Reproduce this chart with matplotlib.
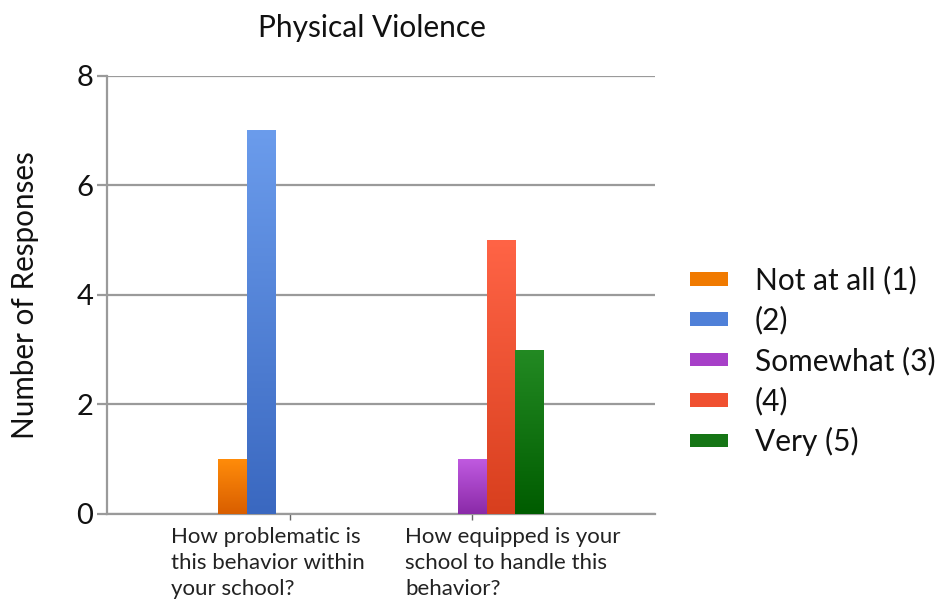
import numpy as np
import matplotlib
matplotlib.use("Agg")
import matplotlib.pyplot as plt
from matplotlib.patches import Patch
from matplotlib.colors import LinearSegmentedColormap
from matplotlib.transforms import blended_transform_factory

plt.rcParams['font.family'] = ['Lato', 'DejaVu Sans']

categories = ["How problematic is\nthis behavior within\nyour school?",
              "How equipped is your\nschool to handle this\nbehavior?"]
series = ["Not at all (1)", "(2)", "Somewhat (3)", "(4)", "Very (5)"]
values = {
    "Not at all (1)": [1, 0],
    "(2)": [7, 0],
    "Somewhat (3)": [0, 1],
    "(4)": [0, 5],
    "Very (5)": [0, 3],
}
yticks = [0, 2, 4, 6, 8]

colors_top = ["#ff8c0a", "#6b9cec", "#c05ae0", "#ff6446", "#238a23"]
colors_bot = ["#d95e00", "#3a68c0", "#8a2aa8", "#d83f1e", "#005c00"]
colors_mid = ["#f07a00", "#4f80d8", "#a740c8", "#f05030", "#157515"]

fig = plt.figure(figsize=(9.46, 6.02), dpi=100)
ax = fig.add_axes([107/946, 1-514/602, (655-107)/946, (514-75.5)/602])

x = np.arange(len(categories))
width = 0.156
n = len(series)
for i, s in enumerate(series):
    offs = (i - (n - 1) / 2) * width
    bars = ax.bar(x + offs, values[s], width, color=colors_mid[i], zorder=3,
                  edgecolor='none')
    cmap = LinearSegmentedColormap.from_list(s, [colors_bot[i], colors_top[i]])
    for b in bars:
        h = b.get_height()
        if h <= 0:
            continue
        x0 = b.get_x()
        grad = np.linspace(0, 1, 256).reshape(-1, 1)
        im = ax.imshow(grad, cmap=cmap, origin='lower', aspect='auto',
                       extent=[x0, x0 + b.get_width(), 0, h], zorder=4)
        im.set_clip_path(b)

ax.set_xlim(-1, 2)
ax.set_ylim(0, 8)
ax.set_yticks(yticks)
ax.set_yticklabels([str(t) for t in yticks], fontsize=21, color='#111111')
ax.yaxis.grid(True, color='#9a9a9a', linewidth=1.6, zorder=0)
ax.set_axisbelow(True)
ax.set_xticks(x)
ax.set_xticklabels([])
ax.tick_params(axis='x', length=4, color='#666666', width=1)
ax.tick_params(axis='y', length=7, color='#9a9a9a', width=1.6, pad=3)
for sp in ['top', 'right']:
    ax.spines[sp].set_visible(False)
for sp in ['left', 'bottom']:
    ax.spines[sp].set_color('#9a9a9a')
    ax.spines[sp].set_linewidth(1.6)

trans = blended_transform_factory(ax.transData, ax.transAxes)
label_x = [-0.65, 0.634]
for xi, lab in zip(label_x, categories):
    ax.text(xi, -0.03, lab, transform=trans, ha='left', va='top',
            fontsize=16, color='#222222', linespacing=1.38)

ax.set_ylabel("Number of Responses", fontsize=21.3, color='#111111')
ax.yaxis.set_label_coords((39 - 107) / 548, 0.5)
fig.text(372/946, 1-28/602, "Physical Violence", ha='center', va='center',
         fontsize=21.5, color='#111111')

handles = [Patch(facecolor=colors_mid[i], edgecolor='none') for i in range(n)]
fig.legend(handles, series, loc='center left', bbox_to_anchor=(690/946, 1-361/602),
           frameon=False, fontsize=21.5, handlelength=1.27, handleheight=0.33,
           labelspacing=0.39, handletextpad=0.9, borderpad=0, borderaxespad=0,
           labelcolor='#111111')

fig.savefig("out.png", dpi=100)
